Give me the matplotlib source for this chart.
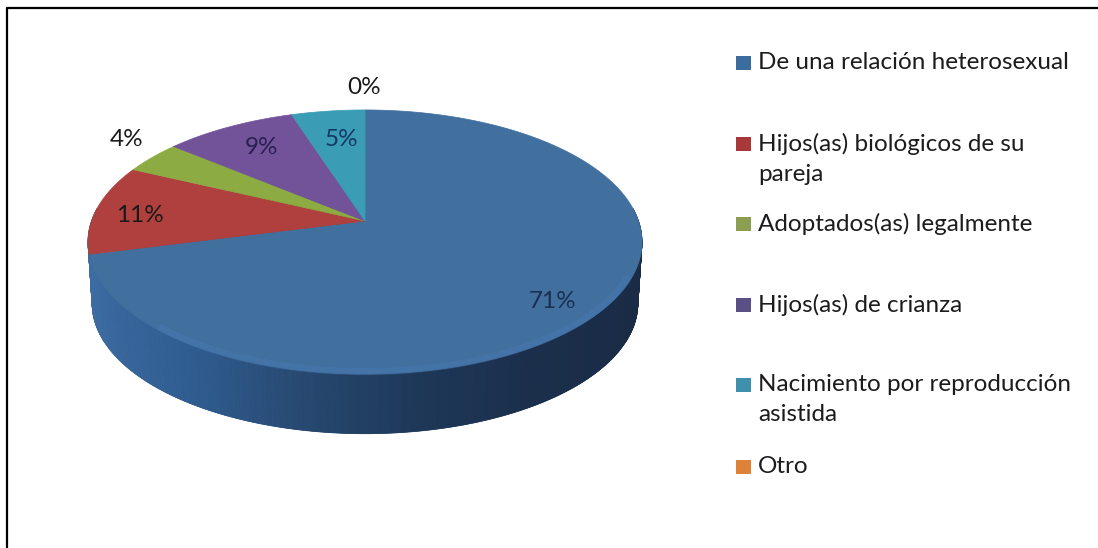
import numpy as np
import matplotlib
matplotlib.use('Agg')
import matplotlib.pyplot as plt
from matplotlib.colors import LinearSegmentedColormap
from matplotlib.patches import Polygon

# Data
categories = ['De una relación heterosexual',
              'Hijos(as) biológicos de su\npareja',
              'Adoptados(as) legalmente',
              'Hijos(as) de crianza',
              'Nacimiento por reproducción\nasistida',
              'Otro']
values = [71, 11, 4, 9, 5, 0]
pct_labels = ['71%', '11%', '4%', '9%', '5%', '0%']
colors = ['#41709F', '#AF403D', '#8CAB43', '#72539A', '#3A9DB5', '#DD8232']
legend_colors = ['#3A6C9E', '#A9383B', '#8C9F50', '#5A5085', '#3F8FAD', '#DD8238']

# Projection of the tilted pie (pixels)
cx, cy = 365, 221
a, b, k = 273.5, 128.7, 0.159
depth = 62
bottom_scale = 0.985

plt.rcParams['font.family'] = ['Lato', 'DejaVu Sans']


def project(theta, scale=1.0, dy=0):
    # theta is clockwise from the top of the pie
    u, v = np.sin(theta), np.cos(theta)
    d = 1 + k * v
    return cx + scale * a * u / d, cy + dy - scale * b * v / d


fig = plt.figure(figsize=(10.98, 5.48), dpi=100)
ax = fig.add_axes([0, 0, 1, 1])
ax.set_xlim(0, 1098)
ax.set_ylim(548, 0)
ax.axis('off')

# Frame, only left and top survive in the picture
ax.plot([7, 7, 1098], [548, 7.5, 7.5], color='black', lw=1.6)

# Side wall
theta = np.linspace(0, 2 * np.pi, 721)
bx, by = project(theta, bottom_scale, depth)
ax.fill(bx, by, color='#1E3554', lw=0, zorder=1)
side_cmap = LinearSegmentedColormap.from_list(
    'side', ['#3D6CA2', '#2F5C90', '#27486F', '#1E3858', '#1B2F4C', '#1A2B45'])
ths = np.linspace(np.pi / 2 - 0.1, 3 * np.pi / 2 + 0.1, 400)
for t0, t1 in zip(ths[:-1], ths[1:]):
    x0, y0 = project(t0)
    x1, y1 = project(t1)
    x2, y2 = project(t1, bottom_scale, depth)
    x3, y3 = project(t0, bottom_scale, depth)
    col = side_cmap(np.clip((x0 - 88) / 554, 0, 1))
    ax.add_patch(Polygon([(x0, y0), (x1, y1), (x2, y2), (x3, y3)], closed=True,
                         facecolor=col, edgecolor=col, lw=0.5, zorder=2))

# Top slices, angles come from the values
fracs = np.cumsum([0] + values) / sum(values) * 2 * np.pi
for i, val in enumerate(values):
    if val == 0:
        continue
    t = np.linspace(fracs[i], fracs[i + 1], 200)
    x, y = project(t)
    ax.add_patch(Polygon(np.r_[[[cx, cy]], np.c_[x, y]], closed=True,
                         facecolor=colors[i], edgecolor=colors[i], lw=0.5, zorder=3))

# Soft lighter band along the front edge of the top
t_rim = np.linspace(np.radians(115), np.radians(222), 200)
xr, yr = project(t_rim, 0.985)
ax.plot(xr, yr, color='#4E7DBB', lw=5, alpha=0.3, zorder=4, solid_capstyle='round')

# Percent labels
label_pos = [(553, 302), (140, 216), (127, 140), (262, 148), (341, 140), (364, 87)]
label_cols = ['#1A2F55', '#1A1A1A', '#1A1A1A', '#2A2050', '#12386A', '#1A1A1A']
for txt, (lx, ly), col in zip(pct_labels, label_pos, label_cols):
    ax.text(lx, ly, txt, ha='center', va='center', fontsize=17.5, color=col, zorder=5)

# Legend
legend_y = [63, 144, 224, 305, 385, 467]
for name, col, ly in zip(categories, legend_colors, legend_y):
    ax.fill([736, 751, 751, 736], [ly - 7, ly - 7, ly + 7, ly + 7], color=col, lw=0, zorder=5)
    ax.text(758, ly - 11, name, ha='left', va='top', fontsize=17.5, color='#1C1C1C',
            linespacing=1.55, zorder=5)

fig.savefig('out.png', dpi=100, facecolor='white')
